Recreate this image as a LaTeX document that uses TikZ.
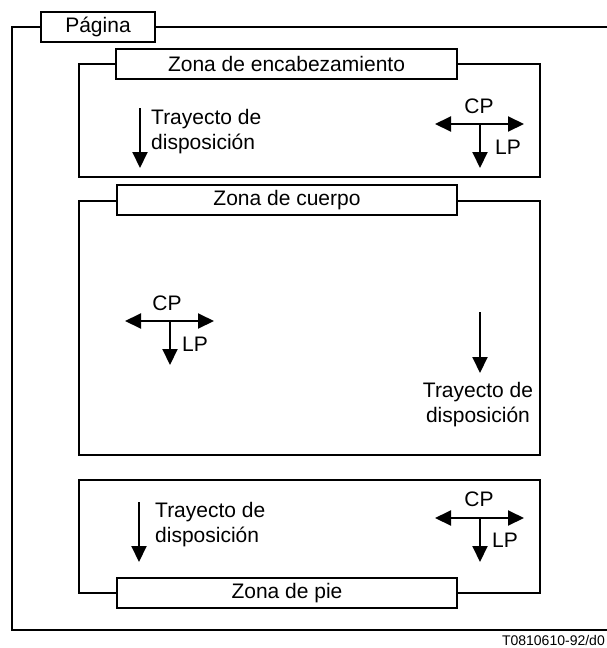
\documentclass[tikz,border=0pt]{standalone}
\usepackage{fontspec}
\setmainfont{Liberation Sans}
\usetikzlibrary{arrows.meta}
\begin{document}
\begin{tikzpicture}[x=1pt,y=-1pt,
  frame/.style={line width=1.4pt},
  lbl/.style={draw,line width=1.4pt,fill=white,minimum height=30pt,inner sep=0pt,font=\fontsize{21}{25}\selectfont},
  zonebox/.style={draw,line width=1.4pt,inner sep=0pt},
  txt/.style={font=\fontsize{21}{25}\selectfont,inner sep=0pt},
  arr/.style={line width=2pt,-{Triangle[length=16pt,width=15pt]}},
  darr/.style={line width=2pt,{Triangle[length=16pt,width=15pt]}-{Triangle[length=16pt,width=15pt]}}]
\useasboundingbox (0,0) rectangle (607,648);
% page frame
\node[lbl,minimum width=114pt] (pag) at (98,27) {Página};
\coordinate (ptl) at (12,27);
\coordinate (pbl) at (12,630);
\coordinate (pbr) at (607,630);
\coordinate (ptr) at (607,27);
\draw[frame] (pag.west) -- (ptl) -- (pbl) -- (pbr);
\draw[frame] (pag.east) -- (ptr);
% header zone
\node[zonebox,minimum width=461pt,minimum height=113pt] (hz) at (309.5,120.5) {};
\node[lbl,minimum width=341pt] (hl) at (286.5,64) {Zona de encabezamiento};
\coordinate (ha1) at (140,108); \coordinate (ha2) at (140,168);
\draw[arr] (ha1) -- (ha2);
\node[txt,anchor=west,align=left] (ht) at (151,132) {Trayecto de\\disposición};
\coordinate (hc) at (480,124); \coordinate (hcl) at (435,124); \coordinate (hcr) at (524,124); \coordinate (hcd) at (480,168);
\draw[darr] (hcl) -- (hcr);
\draw[arr] (hc) -- (hcd);
\node[txt] (hcp) at (479,106) {CP};
\node[txt] (hlp) at (508,147) {LP};
% body zone
\node[zonebox,minimum width=461pt,minimum height=254pt] (bz) at (309.5,328) {};
\node[lbl,minimum width=340pt] (bl) at (287,200) {Zona de cuerpo};
\coordinate (bc) at (170,321); \coordinate (bcl) at (125,321); \coordinate (bcr) at (214,321); \coordinate (bcd) at (170,365);
\draw[darr] (bcl) -- (bcr);
\draw[arr] (bc) -- (bcd);
\node[txt] (bcp) at (167,303) {CP};
\node[txt] (blp) at (195,344) {LP};
\coordinate (ba1) at (480,312); \coordinate (ba2) at (480,373);
\draw[arr] (ba1) -- (ba2);
\node[txt,align=center] (bt) at (478,405) {Trayecto de\\disposición};
% foot zone
\node[zonebox,minimum width=461pt,minimum height=113pt] (fz) at (309.5,536.5) {};
\node[lbl,minimum width=340pt] (fl) at (287,593) {Zona de pie};
\coordinate (fa1) at (139,502); \coordinate (fa2) at (139,562);
\draw[arr] (fa1) -- (fa2);
\node[txt,anchor=west,align=left] (ft) at (155,525) {Trayecto de\\disposición};
\coordinate (fc) at (480,518); \coordinate (fcl) at (435,518); \coordinate (fcr) at (524,518); \coordinate (fcd) at (480,562);
\draw[darr] (fcl) -- (fcr);
\draw[arr] (fc) -- (fcd);
\node[txt] (fcp) at (479,499) {CP};
\node[txt] (flp) at (505,540) {LP};
% figure id
\node[anchor=east,inner sep=0pt,font=\fontsize{14}{16}\selectfont] (id) at (605,640) {T0810610-92/d0};
\end{tikzpicture}
\end{document}
